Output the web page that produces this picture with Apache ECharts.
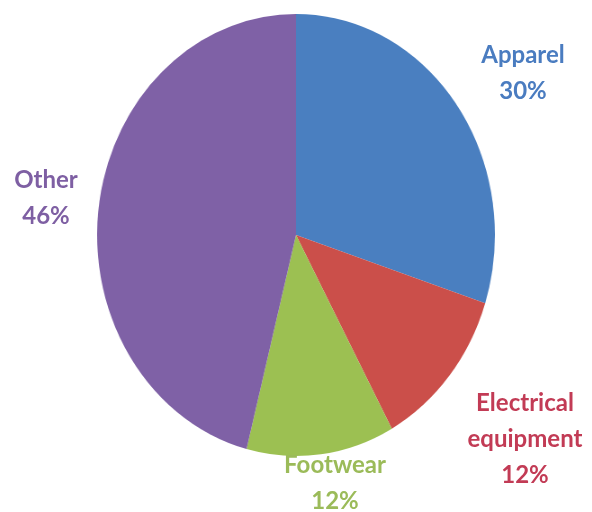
<!DOCTYPE html>
<html><head><meta charset="utf-8">
<script src="https://cdn.jsdelivr.net/npm/echarts@6/dist/echarts.min.js"></script>
<style>
html,body{margin:0;padding:0;background:#fff;}
#wrap{position:relative;width:592px;height:512px;overflow:hidden;}
#pie{position:absolute;left:0;top:0;width:592px;height:512px;transform:scaleX(0.9);transform-origin:296px 235px;}
#lab{position:absolute;left:0;top:0;width:592px;height:512px;}
</style></head>
<body><div id="wrap"><div id="pie"></div><div id="lab"></div></div>
<script>
const categories = ['Apparel', 'Electrical\nequipment', 'Footwear', 'Other'];
const values = [30, 12, 12, 46];
const colors = ['#4A7FC0', '#CB4F4A', '#9CC052', '#7F61A6'];
const labelColors = ['#4A7CC0', '#C23B55', '#9BBB59', '#7E5FA3'];
const labelPos = [[523, 73], [525, 439], [335, 483], [46, 198]];

const pie = echarts.init(document.getElementById('pie'), null, {renderer: 'canvas'});
pie.setOption({
  animation: false,
  series: [{
    type: 'pie',
    center: [296, 235],
    radius: 221,
    startAngle: 90,
    clockwise: true,
    label: {show: false},
    labelLine: {show: false},
    itemStyle: {borderWidth: 0},
    data: categories.map((c, i) => ({name: c, value: values[i], itemStyle: {color: colors[i]}}))
  }]
});

const lab = echarts.init(document.getElementById('lab'), null, {renderer: 'canvas'});
lab.setOption({
  animation: false,
  graphic: categories.map((c, i) => ({
    type: 'text',
    x: labelPos[i][0],
    y: labelPos[i][1],
    style: {
      text: c + '\n' + values[i] + '%',
      fill: labelColors[i],
      font: 'bold 24px Lato, "Open Sans", sans-serif',
      lineHeight: 36,
      align: 'center',
      verticalAlign: 'middle'
    }
  }))
});
</script></body></html>
